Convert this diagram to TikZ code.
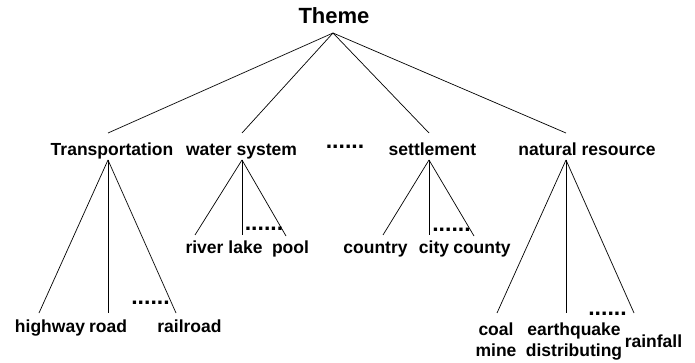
\documentclass[tikz,border=0pt]{standalone}
\usepackage{fontspec}
\setmainfont{Liberation Sans}
\tikzstyle{every node} = [font=\fontsize{17.5}{21}\selectfont\bfseries, inner sep=0pt, anchor=base]
\tikzstyle{title} = [font=\fontsize{22}{26}\selectfont\bfseries]
\tikzstyle{gap} = [font=\fontsize{23}{26}\selectfont\bfseries]
\tikzstyle{branch} = [line width=0.7pt]

\begin{document}
\begin{tikzpicture}[x=1pt, y=-1pt]
    \useasboundingbox (0,0) rectangle (695,363);

    % root
    \node[title] (theme) at (334,24) {Theme};
    \coordinate (theme-b) at (333,33);

    % first level
    \node (trans) at (112,156) {Transportation};
    \node (water) at (241.5,156) {water system};
    \node[gap] (more) at (345,149) {......};
    \node (settle) at (432.5,156) {settlement};
    \node (natres) at (587,156) {natural resource};
    \coordinate (trans-t) at (108,133);  \coordinate (trans-b) at (108,160);
    \coordinate (water-t) at (242,133);  \coordinate (water-b) at (242,160);
    \coordinate (settle-t) at (429,133); \coordinate (settle-b) at (429,160);
    \coordinate (natres-t) at (566,133); \coordinate (natres-b) at (566,160);

    % transportation
    \node (highway) at (50,332) {highway};
    \node (road) at (108,332) {road};
    \node (railroad) at (189.5,332) {railroad};
    \node[gap] (trans-more) at (150.5,304) {......};
    \coordinate (highway-t) at (39,313);
    \coordinate (road-t) at (108,313);
    \coordinate (railroad-t) at (176,313);

    % water system
    \node (river) at (204.5,253) {river};
    \node (lake) at (245.5,253) {lake};
    \node (pool) at (290.5,253) {pool};
    \node[gap] (water-more) at (264,230) {......};
    \coordinate (river-t) at (195,235);
    \coordinate (lake-t) at (242,235);
    \coordinate (pool-t) at (286,236);

    % settlement
    \node (country) at (375.5,253) {country};
    \node (city) at (434,253) {city};
    \node (county) at (482,253) {county};
    \node[gap] (settle-more) at (451.5,231) {......};
    \coordinate (country-t) at (383,235);
    \coordinate (city-t) at (429,235);
    \coordinate (county-t) at (474,236);

    % natural resource
    \node[align=center] (coal) at (496,356) {coal\\mine};
    \node[align=center] (quake) at (574,356) {earthquake\\distributing};
    \node (rain) at (653.5,347.5) {rainfall};
    \node[gap] (natres-more) at (607.5,315) {......};
    \coordinate (coal-t) at (497,313);
    \coordinate (quake-t) at (566,313);
    \coordinate (rain-t) at (634,313);

    \foreach \a/\b in {theme-b/trans-t, theme-b/water-t, theme-b/settle-t, theme-b/natres-t,
        trans-b/highway-t, trans-b/road-t, trans-b/railroad-t,
        water-b/river-t, water-b/lake-t, water-b/pool-t,
        settle-b/country-t, settle-b/city-t, settle-b/county-t,
        natres-b/coal-t, natres-b/quake-t, natres-b/rain-t}
        \draw[branch] (\a) -- (\b);
\end{tikzpicture}
\end{document}
